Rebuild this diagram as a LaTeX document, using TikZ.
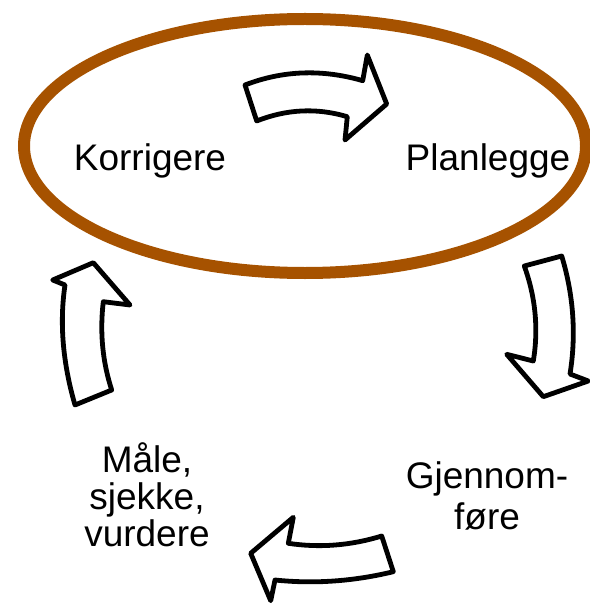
\documentclass[tikz,border=0pt]{standalone}
\usepackage{fontspec}
\setmainfont{Liberation Sans}
\usepackage{tikz}
\definecolor{ringbrown}{RGB}{166,82,0}

\begin{document}
\begin{tikzpicture}[x=1bp, y=-1bp,
    fase/.style={inner sep=0pt, align=center, anchor=base, font=\fontsize{37bp}{39bp}\selectfont},
    pil/.style={draw=black, fill=white, line width=4.8bp, line join=round}]
    \useasboundingbox (0,0) rectangle (590,604);

    % Ring round the first two steps
    \draw[ringbrown, line width=12bp] (305,146) ellipse [x radius=281, y radius=127];

    % Labels (multi-line ones sit on the base of their last line)
    \node[fase] (korr) at (150,171) {Korrigere};
    \node[fase] (plan) at (488,171) {Planlegge};
    \node[fase, font=\fontsize{37bp}{41bp}\selectfont] (gjen) at (487,529) {Gjennom-\\føre};
    \node[fase, font=\fontsize{37bp}{37bp}\selectfont] (maale) at (147,546) {Måle,\\sjekke,\\vurdere};

    % Arrow top
    \draw[pil] (245,85) -- (256.7,121)
        .. controls (287,109) and (317,107.7) .. (347.3,116.7)
        -- (345,140) -- (386.7,104) -- (367.3,55) -- (362.7,80.7)
        .. controls (322.3,69) and (283,70.3) .. cycle;

    % Arrow right
    \draw[pil] (524.3,266) -- (561.7,256)
        .. controls (573.6,295.3) and (576.3,334.7) .. (570,374)
        -- (588.3,381) -- (543.3,396.7) -- (506.7,354.3) -- (533.3,361)
        .. controls (538.6,329.1) and (535.6,297.4) .. cycle;

    % Arrow bottom
    \draw[pil] (381.7,536) -- (393.3,571.7)
        .. controls (353.6,581.3) and (314.2,584.1) .. (275,580)
        -- (270.7,600.7) -- (250.7,553.3) -- (293.3,517.3) -- (288.3,543.3)
        .. controls (319.4,548) and (350.6,545.6) .. cycle;

    % Arrow left
    \draw[pil] (75,405) -- (111.7,390)
        .. controls (102.5,361.7) and (99.7,332.3) .. (103.3,301.7)
        -- (130,305) -- (93.3,262.7) -- (52.7,280) -- (65,285)
        .. controls (59.4,322.7) and (62.7,362.7) .. cycle;
\end{tikzpicture}
\end{document}
